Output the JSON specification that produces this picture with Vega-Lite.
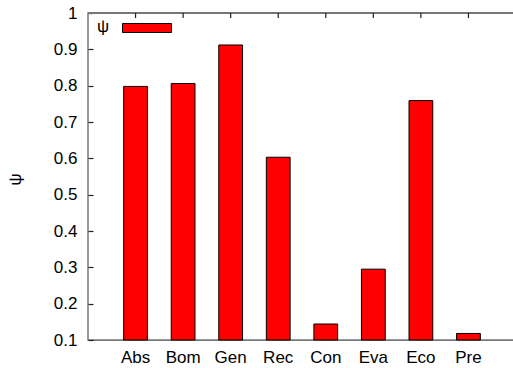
{
  "$schema": "https://vega.github.io/schema/vega-lite/v6.json",
  "width": 428,
  "height": 327,
  "autosize": "none",
  "padding": {"left": 88, "top": 13, "right": -3, "bottom": 28},
  "background": "white",
  "config": {
    "view": {"stroke": "#777777", "strokeWidth": 1.5},
    "font": "Liberation Sans",
    "axis": {"labelFont": "Liberation Sans", "titleFont": "Liberation Sans", "labelFontSize": 17, "labelColor": "black", "grid": false, "domainColor": "#777777", "tickColor": "#222222", "tickWidth": 1.2}
  },
  "data": {
    "values": [
      {"cat": "Abs", "psi": 0.798, "series": "ψ"},
      {"cat": "Bom", "psi": 0.806, "series": "ψ"},
      {"cat": "Gen", "psi": 0.912, "series": "ψ"},
      {"cat": "Rec", "psi": 0.603, "series": "ψ"},
      {"cat": "Con", "psi": 0.144, "series": "ψ"},
      {"cat": "Eva", "psi": 0.295, "series": "ψ"},
      {"cat": "Eco", "psi": 0.759, "series": "ψ"},
      {"cat": "Pre", "psi": 0.118, "series": "ψ"}
    ]
  },
  "layer": [
    {
      "mark": {"type": "bar", "stroke": "black", "strokeWidth": 1},
      "encoding": {
        "x": {
          "field": "cat", "type": "nominal", "sort": null,
          "scale": {"paddingInner": 0.5, "paddingOuter": 0.75},
          "axis": {"orient": "bottom", "title": null, "labelAngle": 0, "ticks": false, "labelPadding": 9}
        },
        "y": {
          "field": "psi", "type": "quantitative",
          "scale": {"domain": [0.1, 1], "nice": false, "zero": false},
          "axis": {
            "orient": "left", "values": [0.1, 0.2, 0.3, 0.4, 0.5, 0.6, 0.7, 0.8, 0.9, 1],
            "format": "~g", "tickSize": 5, "offset": -5, "domain": false, "labelPadding": 11,
            "title": "ψ", "titleAngle": -90, "titleX": -78, "titleY": 166,
            "titleAlign": "center", "titleBaseline": "middle", "titleFontSize": 17, "titleFontWeight": "normal"
          }
        },
        "y2": {"datum": 0.1},
        "fill": {
          "field": "series", "type": "nominal",
          "scale": {"range": ["#ff0000"]},
          "legend": {
            "orient": "none", "legendX": 9, "legendY": -10,
            "title": "ψ", "titleOrient": "left", "titleFontSize": 17, "titleFontWeight": "normal",
            "titleFont": "Liberation Sans", "titlePadding": 12, "titleBaseline": "top",
            "labelExpr": "''", "labelOffset": 0,
            "symbolType": "M-1,-0.184H1V0.184H-1Z", "symbolSize": 2401,
            "symbolStrokeColor": "black", "symbolStrokeWidth": 1, "symbolOpacity": 1,
            "padding": 0
          }
        }
      }
    },
    {
      "mark": {"type": "rule", "color": "#777777", "strokeWidth": 1.5},
      "encoding": {
        "y": {"datum": 1, "axis": null}
      }
    },
    {
      "mark": {"type": "rule", "color": "#222222", "strokeWidth": 1.2},
      "encoding": {
        "x": {"field": "cat", "type": "nominal", "sort": null, "axis": null},
        "y": {"datum": 1, "axis": null},
        "y2": {"datum": 0.986}
      }
    }
  ],
  "resolve": {"axis": {"x": "independent", "y": "independent"}}
}
